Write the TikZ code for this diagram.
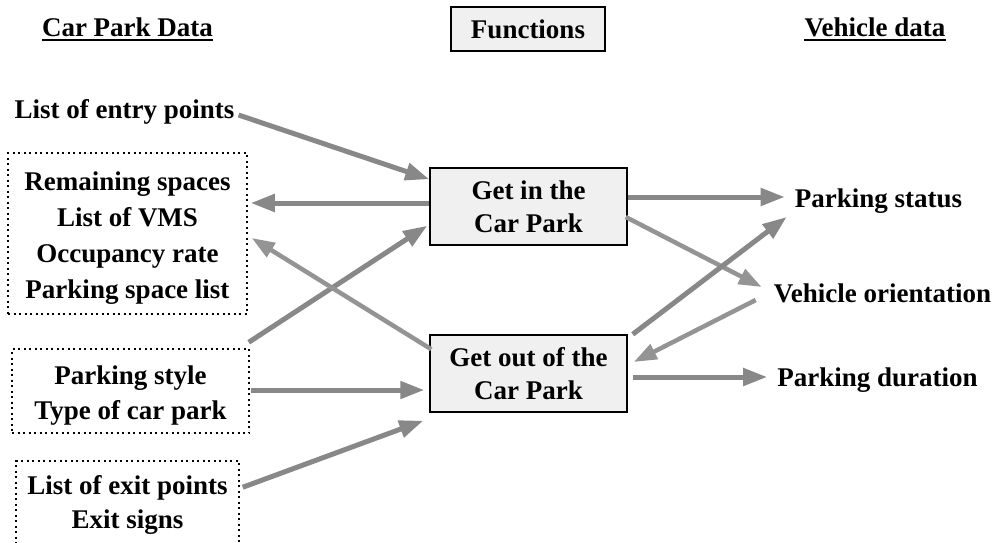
\documentclass[tikz,border=0pt]{standalone}
\usepackage{fontspec}
\setmainfont{Liberation Serif}
\usetikzlibrary{arrows.meta,calc}
\definecolor{flowgray}{RGB}{136,136,136}
\definecolor{flowlight}{RGB}{148,148,148}
\definecolor{boxfill}{RGB}{240,240,240}
\begin{document}
\begin{tikzpicture}[x=1pt,y=-1pt,
  every node/.style={font=\fontsize{27}{33}\selectfont\bfseries},
  txt/.style={inner sep=0pt,align=center},
  funcbox/.style={draw=black,line width=1.5pt,fill=boxfill,minimum width=197pt,minimum height=77pt,align=center,inner sep=0pt},
  databox/.style={draw=black,line width=1.5pt,dash pattern=on 2pt off 3.5pt,inner sep=0pt},
  flow/.style={draw=flowgray,line width=5pt,-{Triangle[length=24pt,width=17pt]}},
  flowthin/.style={draw=flowlight,line width=4.5pt,-{Triangle[length=23pt,width=16pt]}}]
\useasboundingbox (0,0) rectangle (996,542);

% column headings
\node[txt,anchor=base] (cpd) at (127.5,36) {Car Park Data};
\node[txt,anchor=base] (vd) at (875,36) {Vehicle data};
\draw[line width=2pt] ($(cpd.base west)+(0,4)$) -- ($(cpd.base east)+(0,4)$);
\draw[line width=2pt] ($(vd.base west)+(0,4)$) -- ($(vd.base east)+(0,4)$);
\node[draw=black,line width=1.5pt,fill=boxfill,minimum width=154pt,minimum height=44pt,inner sep=0pt] (fn) at (528,29) {Functions};

% car park data
\node[txt] (entry) at (124.5,112) {List of entry points};
\node[databox,minimum width=239pt,minimum height=161pt] (box1) at (127.5,233.5) {};
\node[txt,font=\fontsize{27}{36}\selectfont\bfseries] (box1txt) at (127.5,238)
  {Remaining spaces\\List of VMS\\Occupancy rate\\Parking space list};
\node[databox,minimum width=237pt,minimum height=84pt] (box2) at (130.5,391) {};
\node[txt,font=\fontsize{27}{35}\selectfont\bfseries] (box2txt) at (130.5,396)
  {Parking style\\Type of car park};
\node[databox,minimum width=223pt,minimum height=100pt] (box3) at (127.5,511) {};
\node[txt,font=\fontsize{27}{34}\selectfont\bfseries] (box3txt) at (127.5,505)
  {List of exit points\\Exit signs};

% functions
\node[funcbox] (getin) at (528.5,206.5) {Get in the\\Car Park};
\node[funcbox] (getout) at (528.5,373.5) {Get out of the\\Car Park};

% vehicle data
\node[txt] (status) at (878.5,201) {Parking status};
\node[txt] (orient) at (882.5,293) {Vehicle orientation};
\node[txt] (duration) at (877.5,380) {Parking duration};

% inputs and outputs of "Get in the Car Park"
\draw[flow] ($(entry.east)+(4,3)$) -- ($(getin.north west)+(0,12)$);
\draw[flow] ($(getin.west)+(0,-3.5)$) -- ($(box1.east)+(3,-30.5)$);
\draw[flow] ($(box2.north east)+(-1,-6)$) -- ($(getin.south west)+(-2,-20)$);
\draw[flow] ($(getin.east)+(0,-9.5)$) -- ($(status.west)+(-10,-4)$);
\draw[flowthin] ($(getin.east)+(-2,10.5)$) -- ($(orient.west)+(-12,-6)$);

% inputs and outputs of "Get out of the Car Park"
\draw[flowthin] ($(getout.north west)+(2,15)$) -- ($(box1.east)+(4,4.5)$);
\draw[flow] ($(box2.east)+(1,-1)$) -- ($(getout.west)+(-5,16.5)$);
\draw[flow] ($(box3.north east)+(3,27)$) -- ($(getout.south west)+(-6,8)$);
\draw[flow] ($(getout.north east)+(5,0)$) -- ($(status.west)+(-8,16)$);
\draw[flowthin] ($(orient.west)+(-18,7)$) -- ($(getout.east)+(6,-11.5)$);
\draw[flow] ($(getout.east)+(5,3.5)$) -- ($(duration.west)+(-10,-3)$);
\end{tikzpicture}
\end{document}
